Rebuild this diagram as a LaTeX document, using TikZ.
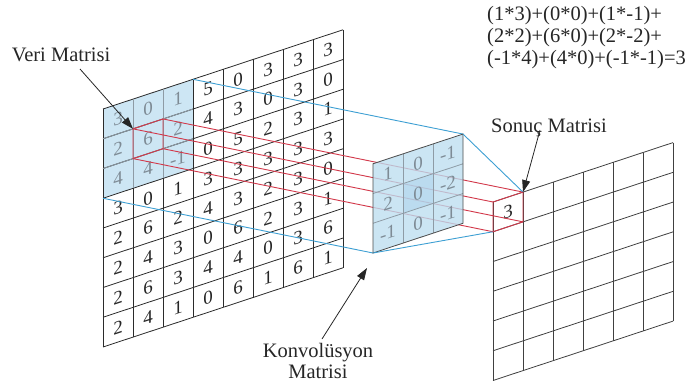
\documentclass[tikz,border=0pt]{standalone}
\usepackage{fontspec}
\setmainfont{Liberation Serif}
\usetikzlibrary{arrows.meta}
\definecolor{patchblue}{HTML}{CDE6F4}
\definecolor{kernblue}{HTML}{BCDEF0}
\definecolor{kernmid}{HTML}{A3CDE8}
\definecolor{linered}{HTML}{D2384A}
\definecolor{lineblue}{HTML}{3D9FD3}
\definecolor{txtgray}{HTML}{7E8B95}
\definecolor{gridgray}{HTML}{2B2B2B}
\definecolor{softgray}{HTML}{8E9BA5}
\begin{document}
\begin{tikzpicture}[x=1pt,y=-1pt,
  gridline/.style={draw=gridgray,line width=0.8pt},
  outline/.style={draw=black!75,line width=0.8pt},
  innerline/.style={draw=softgray,line width=0.8pt},
  digit/.style={font=\fontsize{19}{19}\selectfont,inner sep=0pt,transform shape},
  redline/.style={draw=linered,line width=0.9pt},
  blueline/.style={draw=lineblue,line width=0.9pt},
  lbl/.style={font=\fontsize{20.5}{22}\selectfont,inner sep=0pt,anchor=base,text=black!85},
  formula/.style={font=\fontsize{20.5}{22}\selectfont,inner sep=0pt,anchor=base west,text=black!85},
  pointer/.style={draw=black!85,line width=0.8pt,-{Triangle[length=12pt,width=8pt]}}]
\useasboundingbox (0,0) rectangle (692,385);

% ---------- input matrix ----------
\begin{scope}[shift={(103,109)},yslant=0.33]
  \fill[patchblue] (0,0) -- (90,0) -- (90,89.25) -- (0,89.25) -- cycle;
  \foreach \i in {0,...,8} \draw[gridline] (30*\i,0) -- (30*\i,238);
  \foreach \j in {0,...,8} \draw[gridline] (0,29.75*\j) -- (240,29.75*\j);
  \foreach \i in {1,2} \draw[innerline] (30*\i,0) -- (30*\i,89.25);
  \foreach \j in {1,2} \draw[innerline] (0,29.75*\j) -- (90,29.75*\j);
  \foreach \rowvals [count=\r] in {{3,0,1,5,0,3,3,3},{2,6,2,4,3,0,3,0},{4,4,-1,0,5,2,3,1},{3,0,1,3,3,3,3,3},{2,6,2,4,3,2,3,0},{2,4,3,0,6,2,3,1},{2,6,3,4,4,0,3,6},{2,4,1,0,6,1,6,1}}
    \foreach \v [count=\c] in \rowvals {
      \def\cc{black!85}\ifnum\r<4 \ifnum\c<4 \def\cc{txtgray}\fi\fi
      \node[digit,text=\cc] (in-\r-\c) at (30*\c-15,29.75*\r-14.875) {\v};
    }
  \coordinate (rTL) at (30,29.75);
  \coordinate (rTR) at (60,29.75);
  \coordinate (rBL) at (30,59.5);
  \coordinate (rBR) at (60,59.5);
  \coordinate (pTR) at (90,0);
  \coordinate (pBL) at (0,89.25);
\end{scope}

% ---------- output matrix ----------
\begin{scope}[shift={(493,202)},yslant=0.33]
  \foreach \i in {0,...,6} \draw[outline] (30*\i,0) -- (30*\i,178.5);
  \foreach \j in {0,...,6} \draw[outline] (0,29.75*\j) -- (180,29.75*\j);
  \node[digit,text=black!85] (out-1-1) at (15,14.875) {3};
  \coordinate (oTL) at (0,0);
  \coordinate (oTR) at (30,0);
  \coordinate (oBL) at (0,29.75);
  \coordinate (oBR) at (30,29.75);
\end{scope}

% ---------- red prism ----------
\draw[redline] (rTL) -- (oTL);
\draw[redline] (rTR) -- (oTR);
\draw[redline] (rBL) -- (oBL);
\draw[redline] (rBR) -- (oBR);
\draw[redline] (rTL) -- (rTR) -- (rBR) -- (rBL) -- cycle;

% ---------- kernel ----------
\begin{scope}[shift={(373,163.75)},yslant=0.33]
  \coordinate (kTR) at (90,0);
  \coordinate (kBL) at (0,89.25);
\end{scope}
\draw[blueline] (pTR) -- (kTR);
\draw[blueline] (pBL) -- (kBL);
\begin{scope}[shift={(373,163.75)},yslant=0.33]
  \fill[kernblue,fill opacity=0.78] (0,0) -- (90,0) -- (90,89.25) -- (0,89.25) -- cycle;
  \fill[kernmid,fill opacity=0.4] (30,29.75) -- (60,29.75) -- (60,59.5) -- (30,59.5) -- cycle;
  \foreach \i in {1,2} \draw[innerline] (30*\i,0) -- (30*\i,89.25);
  \foreach \j in {1,2} \draw[innerline] (0,29.75*\j) -- (90,29.75*\j);
  \draw[draw=black!70,line width=0.8pt] (0,0) -- (90,0) -- (90,89.25) -- (0,89.25) -- cycle;
  \foreach \rowvals [count=\r] in {{1,0,-1},{2,0,-2},{-1,0,-1}}
    \foreach \v [count=\c] in \rowvals {
      \node[digit,text=txtgray] (k-\r-\c) at (30*\c-15,29.75*\r-14.875) {\v};
    }
\end{scope}
\draw[blueline] (kTR) -- (oTR);
\draw[blueline] (kBL) -- (oBL);
\draw[redline] (oTL) -- (oTR) -- (oBR) -- (oBL) -- cycle;

% ---------- labels ----------
\node[lbl] (veri) at (61,62) {Veri Matrisi};
\coordinate (veriTail) at (80,69);
\draw[pointer] (veriTail) -- (rTL);

\node[lbl] (sonuc) at (549,132) {Sonuç Matrisi};
\coordinate (sonucTail) at (540,130);
\draw[pointer] (sonucTail) -- (oTR);

\node[lbl] (konv1) at (318,357) {Konvolüsyon};
\node[lbl] (konv2) at (318,378) {Matrisi};
\coordinate (konvTail) at (322,339);
\coordinate (konvTip) at (367,268);
\draw[pointer] (konvTail) -- (konvTip);

\node[formula] (f1) at (487,21) {(1*3)+(0*0)+(1*-1)+};
\node[formula] (f2) at (487,43) {(2*2)+(6*0)+(2*-2)+};
\node[formula] (f3) at (487,65) {(-1*4)+(4*0)+(-1*-1)=3};
\end{tikzpicture}
\end{document}
